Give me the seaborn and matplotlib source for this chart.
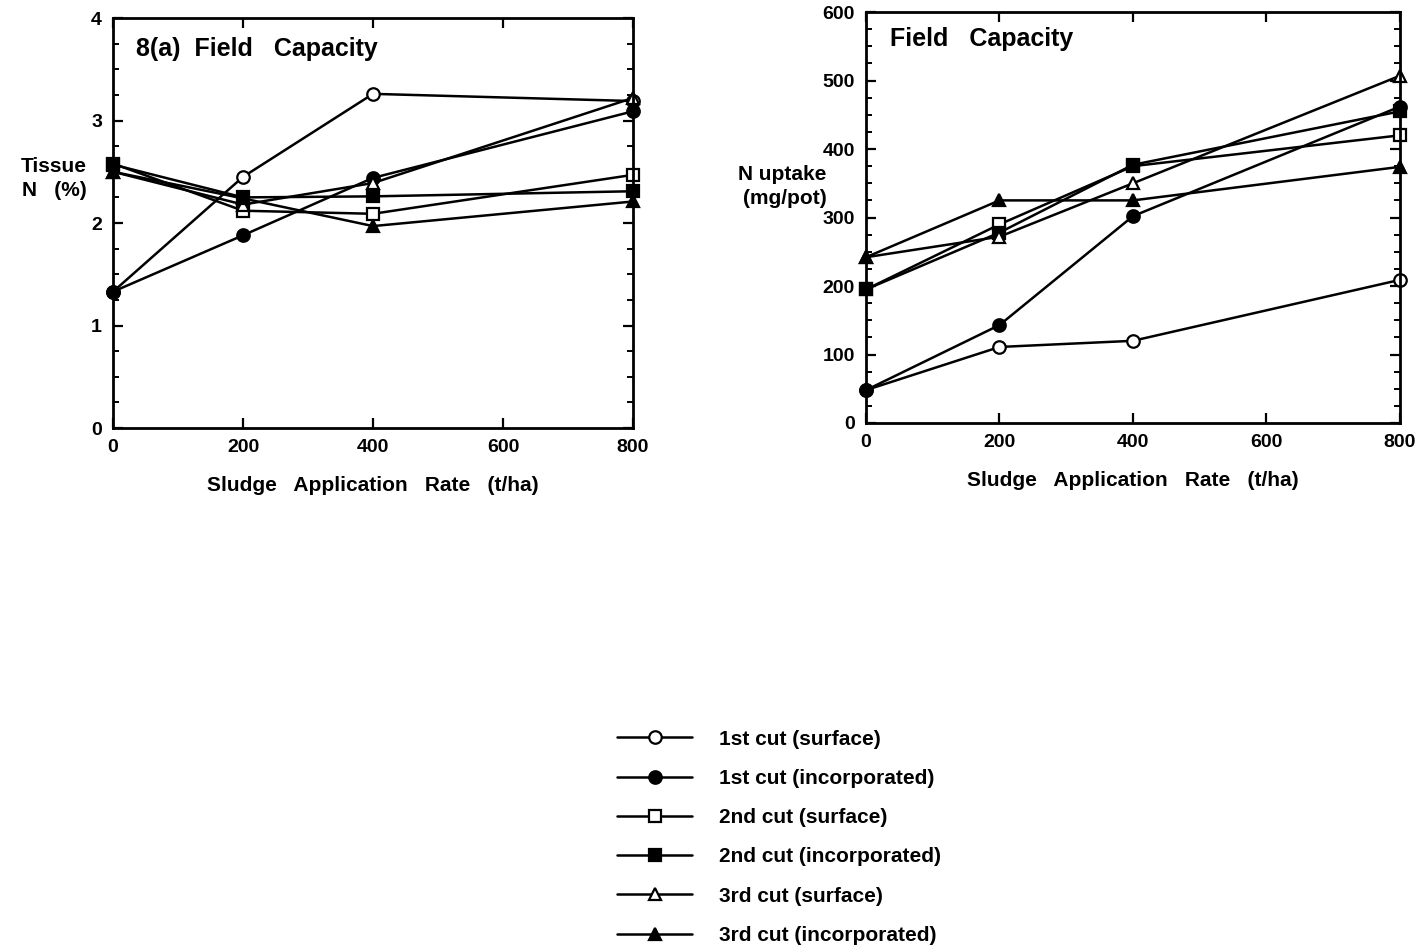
import matplotlib
matplotlib.use("Agg")
import matplotlib.pyplot as plt
from matplotlib.ticker import MultipleLocator
import seaborn as sns
import pandas as pd

sns.set_theme(style="white")
plt.rcParams["font.family"] = ["Liberation Sans", "DejaVu Sans"]
plt.rcParams["font.weight"] = "bold"
for key in ["text.color", "axes.labelcolor", "xtick.color", "ytick.color"]:
    plt.rcParams[key] = "black"

rates = [0, 200, 400, 800]
series_names = [
    "1st cut (surface)",
    "1st cut (incorporated)",
    "2nd cut (surface)",
    "2nd cut (incorporated)",
    "3rd cut (surface)",
    "3rd cut (incorporated)",
]

# Tissue N (%)
tissue_1s = [1.33, 2.45, 3.26, 3.19]
tissue_1i = [1.33, 1.88, 2.44, 3.09]
tissue_2s = [2.58, 2.12, 2.09, 2.47]
tissue_2i = [2.57, 2.25, 2.26, 2.31]
tissue_3s = [2.50, 2.18, 2.39, 3.22]
tissue_3i = [2.50, 2.24, 1.97, 2.21]

# N uptake (mg/pot)
uptake_1s = [48, 111, 120, 209]
uptake_1i = [48, 143, 302, 462]
uptake_2s = [195, 290, 375, 420]
uptake_2i = [195, 278, 377, 455]
uptake_3s = [242, 272, 350, 507]
uptake_3i = [242, 325, 325, 374]

tissue = [tissue_1s, tissue_1i, tissue_2s, tissue_2i, tissue_3s, tissue_3i]
uptake = [uptake_1s, uptake_1i, uptake_2s, uptake_2i, uptake_3s, uptake_3i]

markers = ["o", "o", "s", "s", "^", "^"]
faces = ["white", "black", "white", "black", "white", "black"]


def long_table(values):
    rows = []
    for name, vals in zip(series_names, values):
        for r, v in zip(rates, vals):
            rows.append({"series": name, "rate": r, "value": v})
    return pd.DataFrame(rows)


fig = plt.figure(figsize=(14.18, 9.48), dpi=100)
ax1 = fig.add_axes([0.0797, 0.5485, 0.3667, 0.4325])
ax2 = fig.add_axes([0.6107, 0.5538, 0.3766, 0.4335])


def draw(ax, values, ylim, ymajor, yminor, title, title_y, ylabel, ylabel_xy):
    df = long_table(values)
    handles = []
    for name, m, fc in zip(series_names, markers, faces):
        sub = df[df["series"] == name]
        sns.lineplot(data=sub, x="rate", y="value", ax=ax, color="black",
                     linewidth=1.8, marker=m, markersize=9,
                     markerfacecolor=fc, markeredgecolor="black",
                     markeredgewidth=1.6, clip_on=False, legend=False)
        handles.append(ax.lines[-1])
    ax.set_xlim(0, 800)
    ax.set_ylim(*ylim)
    ax.set_xticks([0, 200, 400, 600, 800])
    ax.yaxis.set_major_locator(MultipleLocator(ymajor))
    ax.yaxis.set_minor_locator(MultipleLocator(yminor))
    ax.tick_params(axis="both", which="both", direction="in",
                   top=True, right=True, bottom=True, left=True)
    ax.tick_params(which="major", length=7, width=1.6, labelsize=14, pad=8)
    ax.tick_params(axis="y", which="minor", length=4, width=1.4)
    for lab in ax.get_xticklabels() + ax.get_yticklabels():
        lab.set_fontweight("bold")
    for sp in ax.spines.values():
        sp.set_linewidth(2.0)
        sp.set_color("black")
    ax.set_xlabel("Sludge   Application   Rate   (t/ha)", fontsize=15,
                  fontweight="bold", labelpad=14)
    ax.set_ylabel("")
    ax.text(0.045, title_y, title, transform=ax.transAxes, fontsize=18,
            fontweight="bold", va="center", ha="left")
    fig.text(ylabel_xy[0], ylabel_xy[1], ylabel, fontsize=15,
             fontweight="bold", ha="right", va="center", linespacing=1.35)
    return handles


handles = draw(ax1, tissue, (0, 4), 1, 0.25, "8(a)  Field   Capacity", 0.925,
               "Tissue\nN   (%)", (0.061, 0.812))
draw(ax2, uptake, (0, 600), 100, 25, "Field   Capacity", 0.935,
     "N uptake\n(mg/pot)", (0.583, 0.803))

fig.legend(handles, series_names, loc="upper left",
           bbox_to_anchor=(0.422, 0.25), frameon=False,
           handlelength=3.6, handletextpad=1.3, labelspacing=0.97,
           prop={"weight": "bold", "size": 15})

fig.savefig("out.png", dpi=100, facecolor="white")
